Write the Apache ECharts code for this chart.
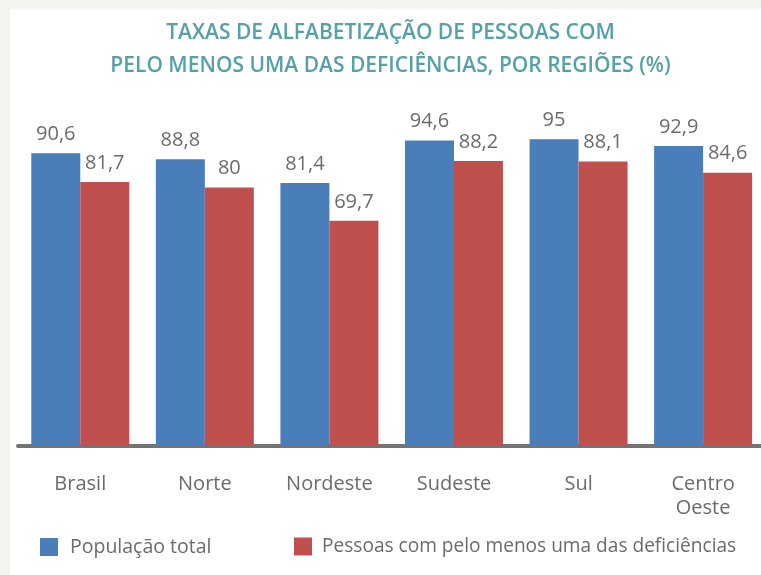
<!DOCTYPE html>
<html>
<head>
<meta charset="utf-8">
<script src="https://cdn.jsdelivr.net/npm/echarts@6/dist/echarts.min.js"></script>
<style>
   html, body { margin: 0; padding: 0; background: #f3f4ef; overflow: hidden; }
   #main { position: absolute; left: 10px; top: 9px; width: 766px; height: 566px; background: #ffffff; }
</style>
</head>
<body>
<div id="main"></div>
<script>
const regioes = ['Brasil', 'Norte', 'Nordeste', 'Sudeste', 'Sul', 'Centro\nOeste']
const populacaoTotal = [90.6, 88.8, 81.4, 94.6, 95, 92.9]
const comDeficiencia = [81.7, 80, 69.7, 88.2, 88.1, 84.6]

const corTexto = '#6b6b6b'
const fonte = 'Open Sans'

let myChart = echarts.init(document.getElementById('main'))

function rotulo(p) {
   return String(p.value).replace('.', ',')
}

myChart.setOption({
   animation: false,
   title: {
      text: 'TAXAS DE ALFABETIZAÇÃO DE PESSOAS COM\nPELO MENOS UMA DAS DEFICIÊNCIAS, POR REGIÕES (%)',
      left: 375.5,
      textAlign: 'center',
      top: 3,
      textStyle: {
         fontFamily: fonte,
         fontSize: 21,
         fontWeight: 600,
         color: '#55a1a8',
         lineHeight: 33
      }
   },
   legend: [
      {
         data: ['População total'],
         left: 25,
         top: 523,
         itemWidth: 18,
         itemHeight: 18,
         icon: 'rect',
         textStyle: { fontFamily: fonte, fontSize: 19.5, color: corTexto, padding: [0, 0, 0, 7] }
      },
      {
         data: ['Pessoas com pelo menos uma das deficiências'],
         left: 279,
         top: 523,
         itemWidth: 18,
         itemHeight: 18,
         icon: 'rect',
         textStyle: { fontFamily: fonte, fontSize: 19.1, color: corTexto, padding: [0, 0, 0, 5] }
      }
   ],
   grid: {
      left: 8,
      top: 114,
      width: 747.4,
      bottom: 129
   },
   xAxis: {
      type: 'category',
      data: regioes,
      offset: 2,
      axisLine: { lineStyle: { color: '#747474', width: 4 } },
      axisTick: { show: false },
      axisLabel: {
         margin: 24,
         fontFamily: fonte,
         fontSize: 20,
         lineHeight: 24,
         color: corTexto
      }
   },
   yAxis: {
      type: 'value',
      min: 0,
      max: 100,
      show: false,
      splitLine: { show: false }
   },
   series: [
      {
         name: 'População total',
         type: 'bar',
         data: populacaoTotal,
         barWidth: 49,
         barGap: '0%',
         itemStyle: { color: '#4a7ebb' },
         label: {
            show: true,
            position: 'top',
            distance: 9,
            formatter: rotulo,
            fontFamily: fonte,
            fontSize: 20,
            color: corTexto
         }
      },
      {
         name: 'Pessoas com pelo menos uma das deficiências',
         type: 'bar',
         data: comDeficiencia,
         barWidth: 49,
         barGap: '0%',
         itemStyle: { color: '#c0504d' },
         label: {
            show: true,
            position: 'top',
            distance: 9,
            formatter: rotulo,
            fontFamily: fonte,
            fontSize: 20,
            color: corTexto
         }
      }
   ]
})
</script>
</body>
</html>
